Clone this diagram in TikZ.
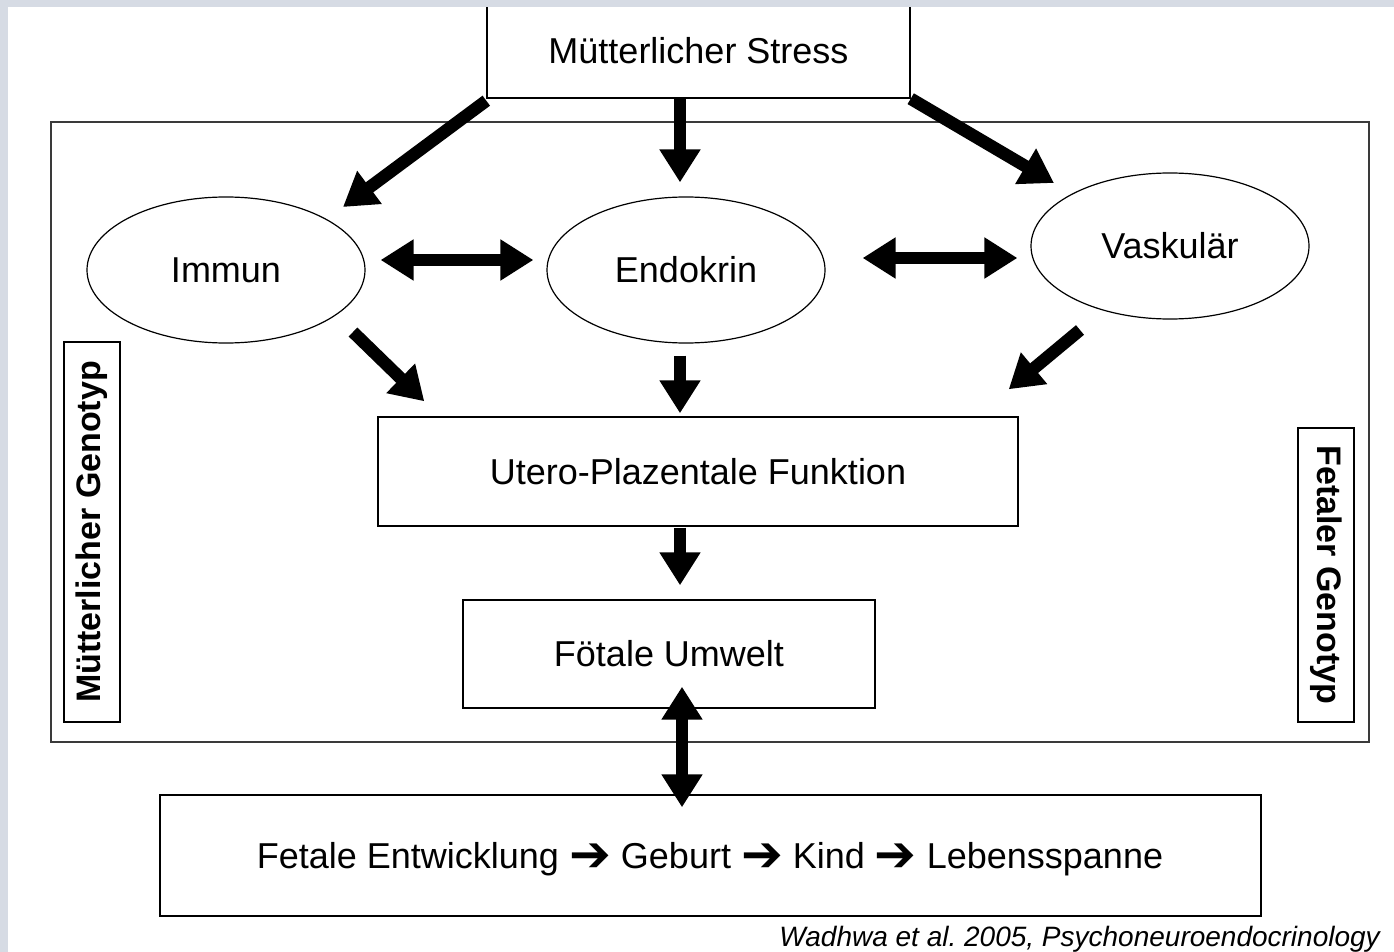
\documentclass[tikz,border=0pt]{standalone}
\usepackage{fontspec}
\setmainfont{Liberation Sans}
\newfontfamily\dvsans{DejaVu Sans}
\usetikzlibrary{arrows.meta,shapes.geometric}
\definecolor{stripgray}{HTML}{D6DBE4}
\definecolor{framegray}{HTML}{3A3A3A}
\newcommand{\heavyarr}{{\dvsans\bfseries\fontsize{50}{50}\selectfont\raisebox{-3pt}{➔}}}
\tikzset{
  box/.style={draw=black,line width=1.4pt,fill=white,inner sep=0pt,font=\fontsize{36}{40}\selectfont},
  oval/.style={draw=black,line width=1.2pt,ellipse,inner sep=0pt,minimum width=278pt,minimum height=146pt,font=\fontsize{36}{40}\selectfont},
  genobox/.style={draw=black,line width=1.4pt,inner sep=0pt,minimum height=56pt,font=\bfseries\fontsize{34}{38}\selectfont},
  arr/.style={line width=12.5pt,-{Triangle[length=33pt,width=39pt]}},
  darr/.style={line width=12.5pt,{Triangle[length=33pt,width=39pt]}-{Triangle[length=33pt,width=39pt]}},
}
\begin{document}
\frenchspacing
\begin{tikzpicture}[x=1pt,y=-1pt]
\useasboundingbox (0,0) rectangle (1394,952);
\fill[white] (0,0) rectangle (1394,952);
% outer frame
\node[draw=framegray,line width=1.8pt,inner sep=0pt,minimum width=1318pt,minimum height=620pt] (frame) at (710,432) {};
% top box
\node[box,minimum width=423pt,minimum height=94pt] (stress) at (698.5,51) {Mütterlicher Stress};
% ellipses
\node[oval] (immun) at (226,270) {Immun};
\node[oval] (endo) at (686,270) {Endokrin};
\node[oval] (vask) at (1170,246) {Vaskulär};
% boxes
\node[box,minimum width=640pt,minimum height=109pt] (utero) at (698,471.5) {Utero-Plazentale Funktion};
\node[box,minimum width=412pt,minimum height=108pt] (fotal) at (669,654) {Fötale Umwelt};
\node[box,minimum width=1101pt,minimum height=121pt] (bottom) at (710.5,855.5) {};
\node[inner sep=0pt,font=\fontsize{36}{40}\selectfont] (bottomtext) at (710,859) {Fetale Entwicklung \heavyarr{} Geburt \heavyarr{} Kind \heavyarr{} Lebensspanne};
% genotype boxes
\node[genobox,rotate=90,minimum width=380pt] (mgeno) at (92,532) {Mütterlicher Genotyp};
\node[genobox,rotate=-90,minimum width=294pt] (fgeno) at (1326,575) {Fetaler Genotyp};
% citation
\node[anchor=base east,inner sep=0pt,font=\itshape\fontsize{28}{32}\selectfont] (cite) at (1380,946) {Wadhwa et al. 2005, Psychoneuroendocrinology};
% arrows
\draw[arr] ([shift={(0,2)}]stress.south west) -- ([shift={(117,-63)}]immun.center);
\draw[arr] ([shift={(-18.5,0)}]stress.south) -- ([shift={(-6,-14)}]endo.north);
\draw[arr] ([shift={(0,0)}]stress.south east) -- ([shift={(-116,-63)}]vask.center);
\draw[darr] ([shift={(15,-10)}]immun.east) -- ([shift={(-13,-10)}]endo.west);
\draw[darr] ([shift={(37,-12)}]endo.east) -- ([shift={(-13,12)}]vask.west);
\draw[arr] ([shift={(127,62)}]immun.center) -- ([shift={(47,-15)}]utero.north west);
\draw[arr] ([shift={(-6,12)}]endo.south) -- ([shift={(-18,-3)}]utero.north);
\draw[arr] ([shift={(-90,84)}]vask.center) -- ([shift={(-10,-27)}]utero.north east);
\draw[arr] ([shift={(-18,1)}]utero.south) -- ([shift={(11,-14)}]fotal.north);
\draw[darr] ([shift={(13,-22)}]fotal.south) -- ([shift={(-28.5,13)}]bottom.north);
% window strips
\fill[stripgray] (0,0) rectangle (1394,7);
\fill[stripgray] (0,0) rectangle (8,952);
\end{tikzpicture}
\end{document}
